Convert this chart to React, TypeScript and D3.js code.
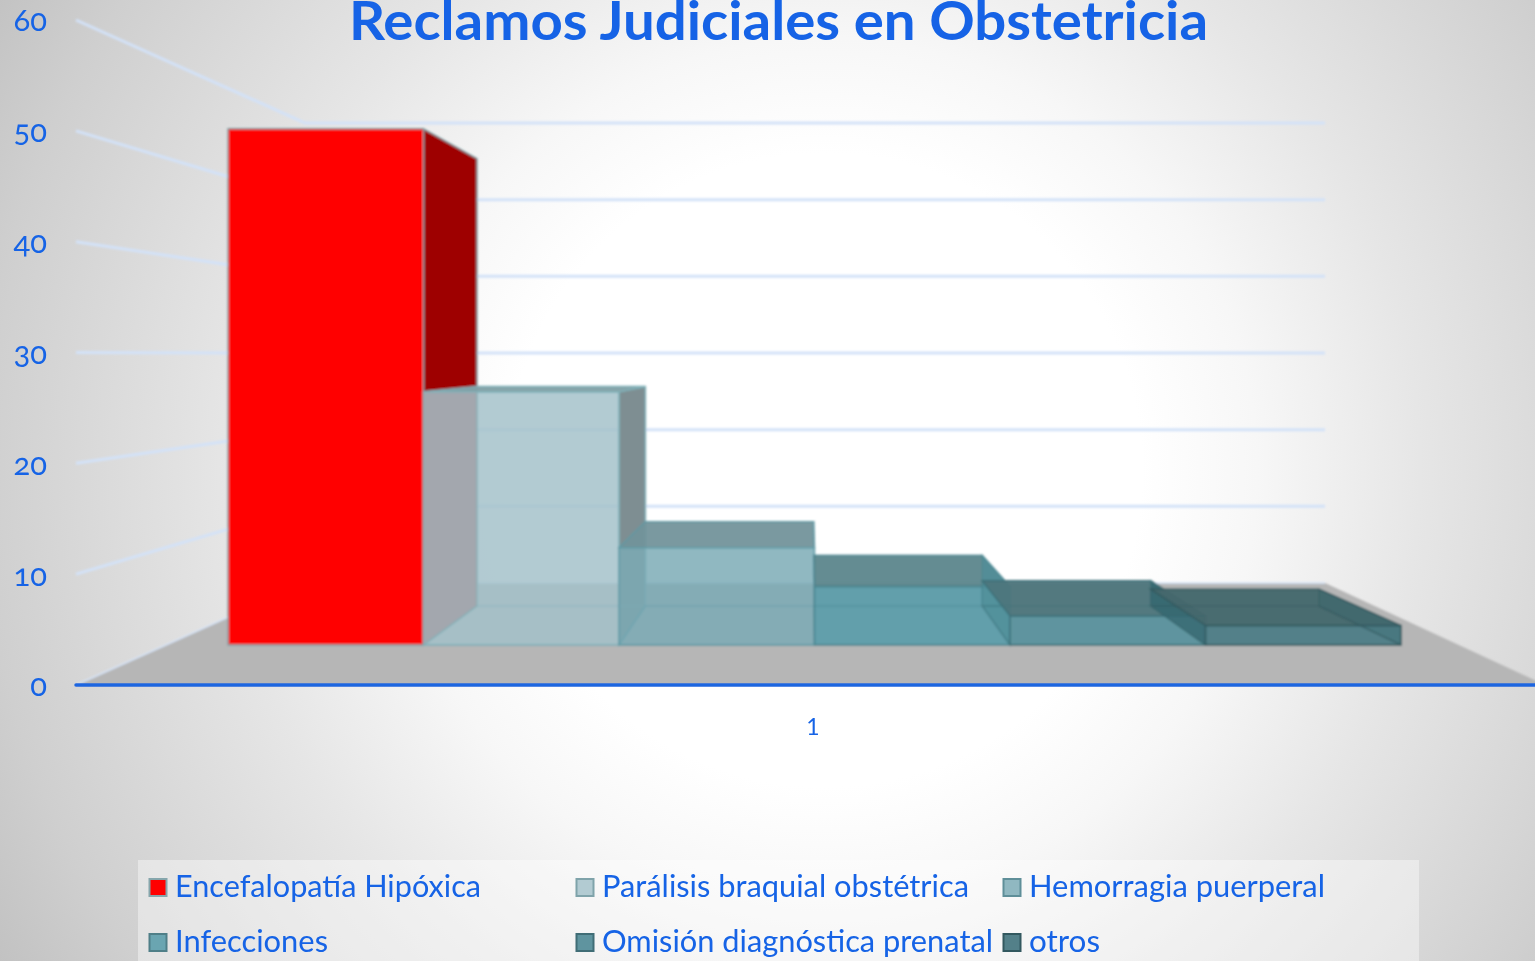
import React, { useEffect, useRef } from 'react';
import * as d3 from 'd3';

const titleText = 'Reclamos Judiciales en Obstetricia';
const categoryLabel = '1';
const seriesNames = [
  'Encefalopatía Hipóxica',
  'Parálisis braquial obstétrica',
  'Hemorragia puerperal',
  'Infecciones',
  'Omisión diagnóstica prenatal',
  'otros',
];
const seriesValues = [53, 26, 10, 6, 3, 2];
const yTicks = [0, 10, 20, 30, 40, 50, 60];

// Face colours per series, in series order
const frontColors = ['#ff0000', '#a3c1c9', '#7baab5', '#529ba9', '#4d8e9b', '#3f7681'];
const frontOpacity = [1, 0.84, 0.84, 0.84, 0.84, 0.84];
const topColors = ['#ff0000', '#7f9ea3', '#72939b', '#5c868c', '#4e767c', '#45686d'];
const sideColors = ['#9e0000', '#7e8e92', '#5f97a3', '#4f8e99', '#33676f', '#2f5f68'];
const sideOpacity = [1, 1, 0, 0.8, 0.8, 0.25];
const edgeColors = ['#7fa3a8', '#7fb0b8', '#5f9aa5', '#4a8590', '#3c6f78', '#33595f'];
const legendFill = ['#ff0000', '#b2cbd2', '#90b8c1', '#6ba5b1', '#5e949f', '#528089'];
const legendStroke = ['#86a6ac', '#7fa3aa', '#5f8f99', '#4f7f88', '#3f6d76', '#33595f'];
const legendWidths = [306, 367, 296, 153, 391, 71];

const BLUE = '#1463e6';

const App = () => {
  const svgRef = useRef<SVGSVGElement | null>(null);

  useEffect(() => {
    const svg = d3.select(svgRef.current);
    svg.selectAll('*').remove();

    // Outer box of the 3D scene: front edge and back wall
    const yFront = d3.scaleLinear().domain([0, 60]).range([685, 20]);
    const yBack = d3.scaleLinear().domain([0, 60]).range([583, 123]);
    const wallLeft = 305;
    const wallRight = 1325;
    const axisLeft = 76;

    // Bars stand on a plane inside the box, one scale for their front and one for their back
    const barFrontX = d3.scaleBand().domain(seriesNames).range([228, 1401]);
    const barBackX = d3.scaleBand().domain(seriesNames).range([308.6, 1319]);
    const barFrontY = d3.scaleLinear().domain([0, 60]).range([645, 60.6]);
    const barBackY = d3.scaleLinear().domain([0, 60]).range([606, 99.6]);

    const line = d3.line().curve(d3.curveLinearClosed);

    const defs = svg.append('defs');
    const bg = defs.append('radialGradient')
      .attr('id', 'bg')
      .attr('gradientUnits', 'userSpaceOnUse')
      .attr('cx', 825).attr('cy', 470).attr('r', 960);
    [[0.33, '#ffffff'], [0.45, '#f7f7f7'], [0.62, '#e6e6e6'], [0.88, '#cfcfcf'], [1, '#c2c2c2']].forEach(([o, c]) => {
      bg.append('stop').attr('offset', o as number).attr('stop-color', c as string);
    });
    defs.append('filter').attr('id', 'soft')
      .append('feGaussianBlur').attr('stdDeviation', 0.9);
    defs.append('filter').attr('id', 'softText')
      .append('feGaussianBlur').attr('stdDeviation', 0.4);

    svg.append('rect').attr('width', 1535).attr('height', 961).attr('fill', 'url(#bg)');

    const scene = svg.append('g').attr('filter', 'url(#soft)');

    // Floor
    scene.append('path')
      .attr('d', line([
        [axisLeft, yFront(0)],
        [wallLeft, yBack(0)],
        [wallRight, yBack(0)],
        [1545, yFront(0)],
      ]))
      .attr('fill', '#b6b6b6');

    // Gridlines on the side wall and back wall
    yTicks.filter(t => t > 0).forEach(t => {
      scene.append('path')
        .attr('d', `M${axisLeft},${yFront(t)}L${wallLeft},${yBack(t)}L${wallRight},${yBack(t)}`)
        .attr('fill', 'none')
        .attr('stroke', '#d3e2f8')
        .attr('stroke-width', 3);
    });
    scene.append('line')
      .attr('x1', axisLeft).attr('y1', yFront(0))
      .attr('x2', wallLeft).attr('y2', yBack(0))
      .attr('stroke', '#d6e4f8').attr('stroke-width', 1.5);
    scene.append('line')
      .attr('x1', wallLeft).attr('y1', yBack(0))
      .attr('x2', wallRight).attr('y2', yBack(0))
      .attr('stroke', '#d6e4f8').attr('stroke-width', 1.5);

    // Bars, each as a set of faces
    seriesNames.forEach((name, i) => {
      const v = seriesValues[i];
      const fx0 = barFrontX(name) as number;
      const fx1 = fx0 + barFrontX.bandwidth();
      const bx0 = barBackX(name) as number;
      const bx1 = bx0 + barBackX.bandwidth();
      const fTop = barFrontY(v);
      const fBase = barFrontY(0);
      const bTop = barBackY(v);
      const bBase = barBackY(0);
      const g = scene.append('g');

      const face = (points: [number, number][], fill: string, opacity: number, edge = 1) =>
        g.append('path')
          .attr('d', line(points))
          .attr('fill', fill)
          .attr('fill-opacity', opacity)
          .attr('stroke', edgeColors[i])
          .attr('stroke-opacity', edge)
          .attr('stroke-width', 1.4);

      const rightFace: [number, number][] = [[fx1, fTop], [bx1, bTop], [bx1, bBase], [fx1, fBase]];
      const leftFace: [number, number][] = [[fx0, fTop], [bx0, bTop], [bx0, bBase], [fx0, fBase]];

      if (i === 0) {
        face(rightFace, sideColors[0], 1);
        face([[fx0, fBase], [fx1, fBase], [fx1, fTop], [fx0, fTop]], frontColors[0], 1);
        return;
      }

      // back outline shows through the glassy faces
      face([[bx0, bBase], [bx1, bBase], [bx1, bTop], [bx0, bTop]], 'none', 0, 0.25);
      if (i === 1) face(rightFace, sideColors[1], 1);
      face([[fx0, fBase], [fx1, fBase], [fx1, fTop], [fx0, fTop]], frontColors[i], frontOpacity[i]);
      if (i === 1) face(leftFace, '#a3a7ae', 1, 0.6);
      face([[fx0, fTop], [bx0, bTop], [bx1, bTop], [fx1, fTop]], topColors[i], 0.95);
      if (i > 2) face(rightFace, sideColors[i], sideOpacity[i], 0.5);
      face([[fx0, fBase], [bx0, bBase], [bx1, bBase], [fx1, fBase]], 'none', 0, 0.35);
    });

    const font = 'Lato, "Open Sans", sans-serif';
    const labels = svg.append('g').attr('filter', 'url(#softText)');

    // Horizontal axis line, in the lighter blurred group so it stays strong
    labels.append('line')
      .attr('x1', axisLeft).attr('y1', yFront(0))
      .attr('x2', 1535).attr('y2', yFront(0))
      .attr('stroke', '#1f66e0')
      .attr('stroke-width', 3.5)
      .attr('stroke-linecap', 'round');

    // Value axis labels
    const axis = labels.append('g')
      .attr('transform', `translate(${axisLeft},1)`)
      .call(d3.axisLeft(yFront).tickValues(yTicks).tickSize(0).tickPadding(29));
    axis.select('.domain').remove();
    axis.selectAll('text')
      .attr('font-family', font)
      .attr('font-size', 31)
      .attr('fill', BLUE)
      .style('font-feature-settings', '"onum"');

    labels.append('text')
      .attr('x', 813).attr('y', 735)
      .attr('text-anchor', 'middle')
      .attr('font-family', font)
      .attr('font-size', 23)
      .attr('fill', BLUE)
      .text(categoryLabel);

    // Title
    labels.append('text')
      .attr('x', 349).attr('y', 40)
      .attr('font-family', font)
      .attr('font-weight', 700)
      .attr('font-size', 54)
      .attr('fill', BLUE)
      .attr('textLength', 859)
      .attr('lengthAdjust', 'spacingAndGlyphs')
      .text(titleText);

    // Legend
    svg.append('rect')
      .attr('x', 138).attr('y', 860)
      .attr('width', 1281).attr('height', 101)
      .attr('fill', '#ffffff').attr('fill-opacity', 0.4);

    const legendCol = d3.scalePoint<number>().domain([0, 1, 2]).range([149, 1003]);
    const legendRow = d3.scalePoint<number>().domain([0, 1]).range([897, 952]);
    const legend = svg.append('g').attr('filter', 'url(#softText)');
    seriesNames.forEach((name, i) => {
      const col = i % 3;
      const row = Math.floor(i / 3);
      const x = legendCol(col) as number;
      const y = legendRow(row) as number;
      legend.append('rect')
        .attr('x', x + 0.5).attr('y', y - 18)
        .attr('width', 17).attr('height', 17)
        .attr('fill', legendFill[i])
        .attr('stroke', legendStroke[i])
        .attr('stroke-width', 2);
      legend.append('text')
        .attr('x', x + 26).attr('y', y)
        .attr('font-family', font)
        .attr('font-size', 31)
        .attr('fill', BLUE)
        .attr('textLength', legendWidths[i])
        .attr('lengthAdjust', 'spacingAndGlyphs')
        .text(name);
    });
  }, []);

  return (
    <svg
      ref={svgRef}
      width={1535}
      height={961}
      style={{ position: 'absolute', left: 0, top: 0, display: 'block' }}
    />
  );
};

export default App;
